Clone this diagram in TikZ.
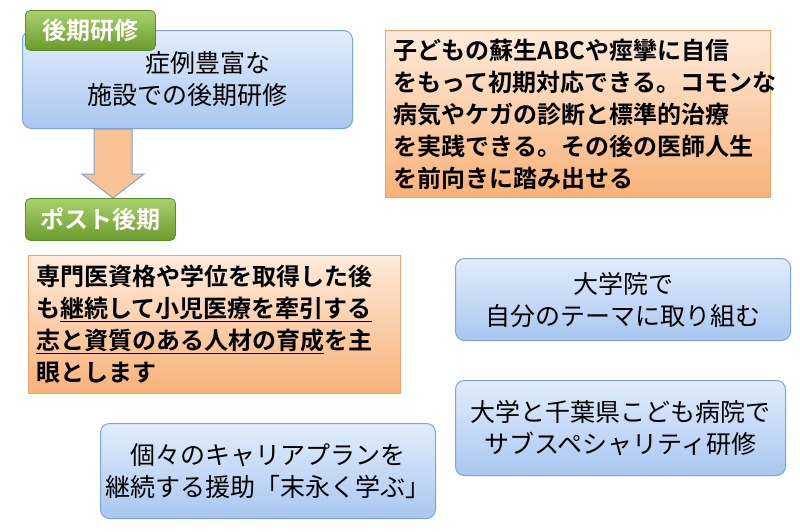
\documentclass[tikz,border=0pt]{standalone}
\usepackage{fontspec}
\setmainfont{Noto Sans CJK JP}[BoldFont={Noto Sans CJK JP Bold}]
\definecolor{bA}{HTML}{E2EDFC}\definecolor{bB}{HTML}{A9C7F0}\definecolor{bD}{HTML}{7FA3D6}
\definecolor{oA}{HTML}{FDEBDB}\definecolor{oB}{HTML}{F8B278}\definecolor{oD}{HTML}{EDA56A}
\definecolor{gA}{HTML}{A9D16E}\definecolor{gB}{HTML}{6B9B2C}\definecolor{gD}{HTML}{5F8A2A}
\tikzset{
 bluebox/.style={draw=bD,line width=1pt,rounded corners=9pt,top color=bA,bottom color=bB,align=center,font=\fontsize{25}{32}\selectfont,inner sep=0pt},
 orbox/.style={draw=oD,line width=0.8pt,top color=oA,bottom color=oB,align=left,font=\fontsize{24}{32}\selectfont\bfseries,inner sep=0pt},
 tag/.style={draw=gD,line width=0.8pt,rounded corners=5pt,top color=gA,bottom color=gB,text=white,font=\fontsize{24}{26}\selectfont\bfseries,inner sep=0pt}
}
\begin{document}
\begin{tikzpicture}[x=1pt,y=-1pt]
\useasboundingbox (0,0) rectangle (800,531);
\node[bluebox,minimum width=330pt,minimum height=98pt,anchor=north west] (b1) at (22,30) {\hspace*{40pt}症例豊富な\\施設での後期研修};
\node[tag,minimum width=130pt,minimum height=40pt,anchor=north west] (t1) at (25,10) {後期研修};
\draw[draw=bD,line width=1pt,fill=oB!70!oA] (b1.south west) ++(72,0) coordinate (a0) -- ++(38,0) -- ++(0,45) -- ++(12,0) -- ++(-31,24) coordinate (atip) -- ++(-31,-24) -- ++(12,0) -- cycle;
\node[tag,minimum width=150pt,minimum height=42pt,anchor=north west] (t2) at (25,198) {ポスト後期};
\node[orbox,minimum width=385pt,minimum height=167pt,anchor=north west,text width=368pt] (o1) at (385,30) {子どもの蘇生ABCや痙攣に自信\\をもって初期対応できる。コモンな\\病気やケガの診断と標準的治療\\を実践できる。その後の医師人生\\を前向きに踏み出せる};
\node[orbox,minimum width=372pt,minimum height=138pt,anchor=north west,text width=356pt] (o2) at (28,255) {専門医資格や学位を取得した後\\も\underline{継続して小児医療を牽引する}\\\underline{志と資質のある人材の育成}を主\\眼とします};
\node[bluebox,minimum width=335pt,minimum height=82pt,anchor=north west] (b2) at (455,258) {大学院で\\自分のテーマに取り組む};
\node[bluebox,minimum width=330pt,minimum height=95pt,anchor=north west] (b3) at (455,380) {大学と千葉県こども病院で\\サブスペシャリティ研修};
\node[bluebox,minimum width=335pt,minimum height=95pt,anchor=north west] (b4) at (100,423) {個々のキャリアプランを\\継続する援助「末永く学ぶ」};
\end{tikzpicture}
\end{document}
